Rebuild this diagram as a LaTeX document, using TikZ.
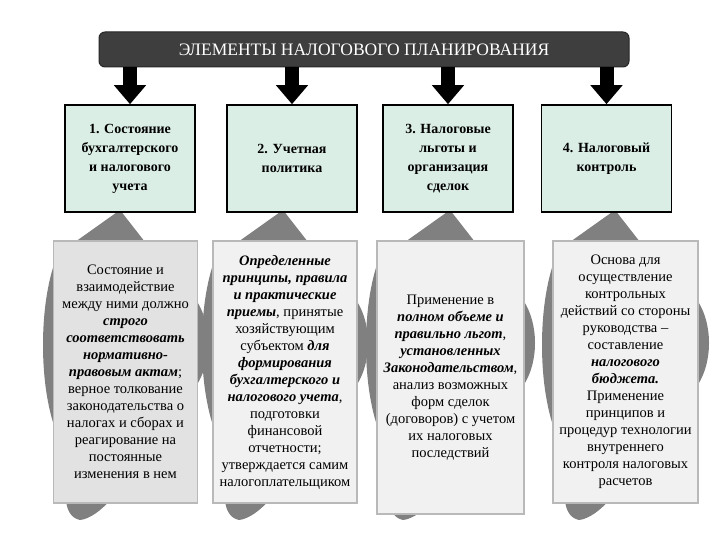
\documentclass[tikz,border=0pt]{standalone}
\usepackage{fontspec}
\setmainfont{Liberation Serif}
\usetikzlibrary{arrows.meta}

\definecolor{titlegray}{RGB}{62,62,62}
\definecolor{headmint}{RGB}{219,238,230}
\definecolor{descrfill}{RGB}{241,241,241}
\definecolor{descrfirst}{RGB}{226,226,226}
\definecolor{descredge}{RGB}{185,185,185}
\definecolor{shapegray}{RGB}{128,128,128}

\newcommand{\bfit}[1]{\textbf{\textit{#1}}}

\begin{document}
\begin{tikzpicture}[x=1pt, y=-1pt,
    titlebar/.style={draw=black!85, line width=1pt, fill=titlegray, rounded corners=6pt,
        minimum width=530pt, minimum height=35pt, text=white,
        font=\fontsize{17.5}{19}\selectfont},
    head/.style={draw=black, line width=1.6pt, fill=headmint, minimum width=130pt,
        minimum height=107pt, inner sep=0pt, align=center,
        font=\fontsize{14}{19}\selectfont\bfseries},
    descr/.style={draw=descredge, line width=1.6pt, fill=descrfill, minimum width=144pt,
        minimum height=262pt, inner sep=0pt, align=center,
        font=\fontsize{14.5}{17}\selectfont},
    blockarrow/.style={line width=14pt, -{Triangle[width=31pt,length=19pt]}}]

\useasboundingbox (0, 0) rectangle (720, 540);

% grey shapes behind the lower boxes
\foreach \L/\R/\A in {54/197/120, 213/357/283, 377/524/450, 553/698/615}
    \fill[shapegray]
        (\A, 210) -- (\A + 25, 242) -- (\R - 4, 296)
        .. controls (\R + 16, 320) and (\R + 16, 366) .. (\R - 4, 390)
        -- (\R - 4, 498) -- (\L + 58, 498)
        .. controls (\L + 48, 510) and (\L + 36, 519) .. (\L + 26, 520)
        .. controls (\L + 16, 518) and (\L + 12, 508) .. (\L + 12, 498)
        -- (\L + 4, 498) -- (\L + 4, 436)
        .. controls (\L - 16, 390) and (\L - 16, 300) .. (\L + 4, 254)
        -- (\A - 45, 242) -- cycle;

\node[descr, fill=descrfirst] (d1) at (125.5, 372) {Состояние и\\взаимодействие\\между ними должно\\\bfit{строго}\\\bfit{соответствовать}\\\bfit{нормативно-}\\\bfit{правовым актам};\\верное толкование\\законодательства о\\налогах и сборах и\\реагирование на\\постоянные\\изменения в нем};
\node[descr] (d2) at (285, 372) {\bfit{Определенные}\\\bfit{принципы, правила}\\\bfit{и практические}\\\bfit{приемы}, принятые\\хозяйствующим\\субъектом \bfit{для}\\\bfit{формирования}\\\bfit{бухгалтерского и}\\\bfit{налогового учета},\\подготовки\\финансовой\\отчетности;\\утверждается самим\\налогоплательщиком};
\node[descr, minimum width=147pt, minimum height=273pt] (d3) at (450.5, 377.5) {Применение в\\\bfit{полном объеме и}\\\bfit{правильно льгот},\\\bfit{установленных}\\\bfit{Законодательством},\\анализ возможных\\форм сделок\\(договоров) с учетом\\их налоговых\\последствий};
\node[descr, minimum width=145pt] (d4) at (625.5, 372) {Основа для\\осуществление\\контрольных\\действий со стороны\\руководства –\\составление\\\bfit{налогового}\\\bfit{бюджета.}\\Применение\\принципов и\\процедур технологии\\внутреннего\\контроля налоговых\\расчетов};

\node[head] (h1) at (130, 158.5) {1. Состояние\\бухгалтерского\\и налогового\\учета};
\node[head] (h2) at (292, 158.5) {2. Учетная\\политика};
\node[head] (h3) at (448, 158.5) {3. Налоговые\\льготы и\\организация\\сделок};
\node[head] (h4) at (606.5, 158.5) {4. Налоговый\\контроль};

\node[titlebar] (title) at (364, 49.5) {ЭЛЕМЕНТЫ НАЛОГОВОГО ПЛАНИРОВАНИЯ};

\draw[blockarrow] (title.south -| h1.north) -- (h1.north);
\draw[blockarrow] (title.south -| h2.north) -- (h2.north);
\draw[blockarrow] (title.south -| h3.north) -- (h3.north);
\draw[blockarrow] (title.south -| h4.north) -- (h4.north);
\end{tikzpicture}
\end{document}
